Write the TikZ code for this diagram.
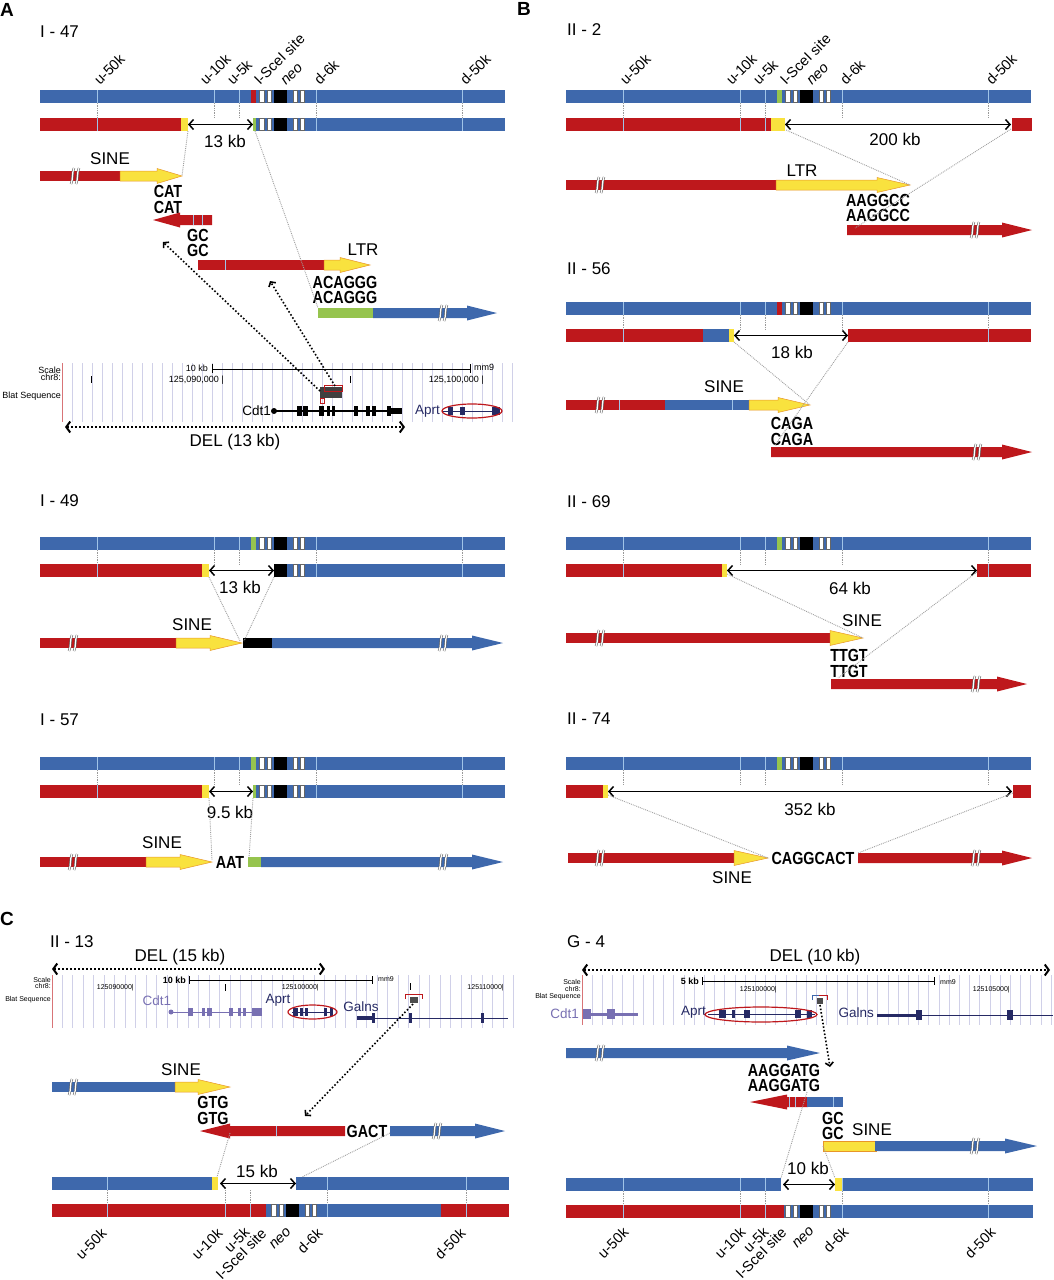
\documentclass[tikz,border=0pt]{standalone}
\usepackage{fontspec}
\setmainfont{Liberation Sans}
\newfontfamily\seqfont[FakeStretch=0.82]{Liberation Sans}
\usetikzlibrary{arrows.meta}

\definecolor{chrblue}{RGB}{62,104,172}
\definecolor{chrred}{RGB}{190,24,28}
\definecolor{sineyellow}{RGB}{249,226,62}
\definecolor{sineedge}{RGB}{232,150,40}
\definecolor{cassgreen}{RGB}{150,196,78}
\definecolor{tickblue}{RGB}{160,196,232}
\definecolor{ucscline}{RGB}{208,208,232}
\definecolor{genepurple}{RGB}{120,112,178}
\definecolor{genenavy}{RGB}{38,42,100}

\tikzset{
  lbl/.style={font=\fontsize{17}{17}\selectfont, inner sep=0pt},
  seqtext/.style={font=\seqfont\bfseries\fontsize{17.5}{17}\selectfont, inner sep=0pt},
  tklabel/.style={rotate=45, font=\fontsize{14.5}{14}\selectfont, inner sep=0pt},
  panel/.style={font=\bfseries\fontsize{19}{19}\selectfont, inner sep=0pt},
  scaletext/.style={font=\fontsize{9}{9}\selectfont, inner sep=0pt},
  smallscale/.style={font=\fontsize{7}{7}\selectfont, inner sep=0pt},
  genetext/.style={font=\fontsize{13.5}{13}\selectfont, inner sep=0pt},
  tickline/.style={tickblue, line width=0.9pt},
  gapline/.style={gray!80, densely dotted, line width=0.7pt},
  junction/.style={gray!75, densely dotted, line width=0.9pt},
  kbspan/.style={{Straight Barb[length=4.5pt,width=10pt]}-{Straight Barb[length=4.5pt,width=10pt]}, line width=1.5pt},
  delspan/.style={dotted, line width=2pt, {Straight Barb[length=4pt,width=11pt]}-{Straight Barb[length=4pt,width=11pt]}},
  blatarrow/.style={dotted, line width=1.6pt, -{Straight Barb[length=3.5pt,width=8pt]}},
  redfill/.style={fill=chrred},
  bluefill/.style={fill=chrblue},
  sinefill/.style={fill=sineyellow, draw=sineedge, line width=0.5pt},
  whitebox/.style={fill=white, draw=black!60, line width=0.5pt},
}

% arrow piece: [style]{x start}{x head}{x tip}{y centre}
\newcommand\chrarrow[5][]{\path[#1] (#2,#5-5) -- (#3,#5-5) -- (#3,#5-7.5) -- (#4,#5) -- (#3,#5+7.5) -- (#3,#5+5) -- (#2,#5+5) -- cycle;}
% break mark on a row
\newcommand\brk[2]{\foreach \dx in {-2.5,2.5}{
  \draw[black!60, line width=2.4pt] (#1+\dx-1.5,#2+8) .. controls (#1+\dx+1,#2+2) and (#1+\dx-1,#2-2) .. (#1+\dx+1.5,#2-8);
  \draw[white, line width=1.2pt] (#1+\dx-1.5,#2+8) .. controls (#1+\dx+1,#2+2) and (#1+\dx-1,#2-2) .. (#1+\dx+1.5,#2-8);}}
\newcommand\neocassette[1]{%
  \path[whitebox] (219.5,#1+0.5) rectangle (224,#1+12.5) (227,#1+0.5) rectangle (231.5,#1+12.5)
               (253,#1+0.5) rectangle (257,#1+12.5) (260,#1+0.5) rectangle (264.5,#1+12.5);
  \fill[black] (234,#1) rectangle (247,#1+13);}
\newcommand\barticks[2][57,174,199,276,422]{\foreach \tk in {#1} \draw[tickline] (\tk,#2) -- (\tk,#2+13);}
\newcommand\gaplines[2][57,174,199,276,422]{\foreach \tk in {#1} \draw[gapline] (\tk,#2+13) -- (\tk,#2+28);}
\newcommand\refbar[2]{%
  \fill[chrblue] (0,#1) rectangle (465,#1+13);
  \fill[#2] (211,#1) rectangle (216,#1+13);
  \neocassette{#1}\barticks{#1}}
\newcommand\toplabels[2]{%
  \node[tklabel, anchor=base west] (#1u50) at (60,#2) {u-50k};
  \node[tklabel, anchor=base west] (#1u10) at (166,#2) {u-10k};
  \node[tklabel, anchor=base west] (#1u5) at (193,#2) {u-5k};
  \node[tklabel, anchor=base west] (#1sce) at (220,#2) {I-SceI site};
  \node[tklabel, anchor=base west] (#1neo) at (246,#2) {\itshape neo};
  \node[tklabel, anchor=base west] (#1d6) at (280,#2) {d-6k};
  \node[tklabel, anchor=base west] (#1d50) at (426,#2) {d-50k};}

\begin{document}
\begin{tikzpicture}[x=1pt,y=-1pt]
  \useasboundingbox (0,0) rectangle (1053,1280);

  % Panel letters
  \node[panel] (pA) at (7,10) {A};
  \node[panel] (pB) at (524,9) {B};
  \node[panel] (pC) at (7,919) {C};

  %% I - 47
  \node[lbl, anchor=west] (t47) at (40,32) {I - 47};
  \begin{scope}[xshift=40pt]
    \refbar{90}{chrred}
    \toplabels{a47}{86}
    \gaplines{90}
    \fill[chrred] (0,118) rectangle (141,131);
    \fill[sineyellow] (141,118) rectangle (148,131);
    \fill[chrblue] (213,118) rectangle (465,131);
    \fill[cassgreen] (213,118) rectangle (216,131);
    \neocassette{118}
    \barticks[57,276,422]{118}
    \coordinate (a47l) at (148,124.5);
    \coordinate (a47r) at (213,124.5);
    \coordinate (a47y) at (148,131);
    \coordinate (a47g) at (215,131);
  \end{scope}
  \draw[kbspan] (a47l) -- (a47r);
  \node[lbl] (a47kb) at (225,141) {13 kb};
  % SINE row
  \fill[chrred] (40,171) rectangle (121,181);
  \chrarrow[sinefill]{120}{157}{182}{176}
  \brk{75}{176}
  \node[lbl] (a47sine) at (110,159) {SINE};
  \coordinate (a47st) at (182,176);
  \draw[junction] (a47y) -- (a47st);
  \node[seqtext] (a47cat1) at (168,191) {CAT};
  \node[seqtext] (a47cat2) at (168,207) {CAT};
  \chrarrow[redfill]{212}{180}{153}{220}
  \draw[tickline] (193,215) -- (193,225) (202,215) -- (202,225);
  \node[seqtext] (a47gc1) at (198,235) {GC};
  \node[seqtext] (a47gc2) at (198,250) {GC};
  % LTR row
  \fill[chrred] (198,260) rectangle (325,270);
  \draw[tickline] (225,260) -- (225,270);
  \chrarrow[sinefill]{324}{340}{370}{265}
  \node[lbl] (a47ltr) at (363,250) {LTR};
  \node[seqtext] (a47ac1) at (345,282) {ACAGGG};
  \node[seqtext] (a47ac2) at (345,297) {ACAGGG};
  \fill[cassgreen] (318,308) rectangle (374,318);
  \chrarrow[bluefill]{373}{467}{497}{313}
  \brk{443}{313}
  \coordinate (a47jn) at (318,308);
  \draw[junction] (a47g) -- (a47jn);
  % browser view
  \foreach \x in {72,82,...,518} \draw[ucscline] (\x,363) -- (\x,422);
  \draw[chrred!60, line width=0.6pt] (62,363) -- (62,422);
  \node[scaletext, anchor=east] (a47scale) at (61,370) {Scale};
  \node[scaletext, anchor=east] (a47chr) at (61,377) {chr8:};
  \node[scaletext, anchor=east] (a47blat) at (61,396) {Blat Sequence};
  \node[scaletext, anchor=east] (a47ten) at (208,368) {10 kb};
  \draw[line width=0.8pt] (212,364) -- (212,373) (212,369) -- (470,369) (470,364) -- (470,373);
  \node[scaletext, anchor=west] (a47mm) at (474,367) {mm9};
  \draw[line width=0.7pt] (91,376) -- (91,383) (350,376) -- (350,383);
  \node[scaletext, anchor=east] (a47pa) at (224,380) {125,090,000 |};
  \node[scaletext, anchor=east] (a47pb) at (484,380) {125,100,000 |};
  \fill[black!75] (320,387) rectangle (342,398);
  \draw[chrred, line width=0.8pt] (324,385) rectangle (342,391) (320,398) rectangle (324,403);
  \node[genetext, anchor=east] (a47cdt) at (271,411) {Cdt1};
  \draw[line width=1.2pt] (272,411) -- (402,411);
  \fill (274,411) circle (3pt);
  \foreach \a/\b in {297/302,303/308,319/324,327/330,332/335,354/358,366/370,372/376,387/391}
    \fill (\a,406) rectangle (\b,416);
  \fill (391,408) rectangle (402,414);
  \node[genetext, text=genenavy, anchor=east] (a47aprt) at (440,411) {Aprt};
  \draw[genenavy, line width=1pt] (442,411) -- (500,411);
  \foreach \a/\b in {448/453,460/465,492/500} \fill[genenavy] (\a,407) rectangle (\b,415);
  \draw[chrred, line width=1.2pt] (472,411) ellipse (30pt and 7pt);
  \coordinate (a47b1) at (320,391);
  \coordinate (a47b2) at (335,386);
  \coordinate (a47pg) at (163,242);
  \coordinate (a47pl) at (270,281);
  \draw[blatarrow] (a47b1) -- (a47pg);
  \draw[blatarrow] (a47b2) -- (a47pl);
  \coordinate (a47d1) at (65,427);
  \coordinate (a47d2) at (405,427);
  \draw[delspan] (a47d1) -- (a47d2);
  \node[lbl] (a47del) at (235,442) {DEL (13 kb)};

  %% I - 49
  \node[lbl, anchor=west] (t49) at (40,501) {I - 49};
  \begin{scope}[xshift=40pt]
    \refbar{537}{cassgreen}
    \gaplines{537}
    \fill[chrred] (0,564) rectangle (162,577);
    \fill[sineyellow] (162,564) rectangle (169,577);
    \fill[chrblue] (234,564) rectangle (465,577);
    \fill[black] (234,564) rectangle (247,577);
    \path[whitebox] (253,564.5) rectangle (257,576.5) (260,564.5) rectangle (264.5,576.5);
    \barticks[57,276,422]{564}
    \coordinate (c49l) at (169,570.5);
    \coordinate (c49r) at (234,570.5);
    \coordinate (c49y) at (169,577);
    \coordinate (c49e) at (234,577);
  \end{scope}
  \draw[kbspan] (c49l) -- (c49r);
  \node[lbl] (c49kb) at (240,587) {13 kb};
  \fill[chrred] (40,638) rectangle (177,648);
  \chrarrow[sinefill]{176}{210}{242}{643}
  \fill[black] (243,638) rectangle (273,648);
  \chrarrow[bluefill]{272}{472}{503}{643}
  \brk{73}{643} \brk{443}{643}
  \node[lbl] (c49sine) at (192,625) {SINE};
  \coordinate (c49st) at (240,641);
  \coordinate (c49bk) at (244,641);
  \draw[junction] (c49y) -- (c49st);
  \draw[junction] (c49e) -- (c49bk);

  %% I - 57
  \node[lbl, anchor=west] (t57) at (40,720) {I - 57};
  \begin{scope}[xshift=40pt]
    \refbar{757}{cassgreen}
    \gaplines{757}
    \fill[chrred] (0,785) rectangle (162,798);
    \fill[sineyellow] (162,785) rectangle (169,798);
    \fill[chrblue] (213,785) rectangle (465,798);
    \fill[cassgreen] (213,785) rectangle (216,798);
    \neocassette{785}
    \barticks[57,276,422]{785}
    \coordinate (c57l) at (169,791.5);
    \coordinate (c57r) at (213,791.5);
    \coordinate (c57y) at (169,798);
    \coordinate (c57e) at (213,798);
  \end{scope}
  \draw[kbspan] (c57l) -- (c57r);
  \node[lbl] (c57kb) at (230,812) {9.5 kb};
  \fill[chrred] (40,857) rectangle (147,867);
  \chrarrow[sinefill]{146}{180}{212}{862}
  \fill[cassgreen] (248,857) rectangle (262,867);
  \chrarrow[bluefill]{261}{472}{503}{862}
  \brk{73}{862} \brk{443}{862}
  \node[lbl] (c57sine) at (162,843) {SINE};
  \node[seqtext] (c57aat) at (230,862) {AAT};
  \coordinate (c57st) at (212,860);
  \coordinate (c57gn) at (249,858);
  \draw[junction] (c57y) -- (c57st);
  \draw[junction] (c57e) -- (c57gn);

  %% II - 2
  \node[lbl, anchor=west] (t2) at (567,30) {II - 2};
  \begin{scope}[xshift=566pt]
    \refbar{90}{cassgreen}
    \toplabels{b2}{86}
    \gaplines{90}
    \fill[chrred] (0,118) rectangle (205,131);
    \fill[sineyellow] (205,118) rectangle (219,131);
    \fill[chrred] (446,118) rectangle (466,131);
    \barticks[57,174,199]{118}
    \coordinate (b2l) at (219,124.5);
    \coordinate (b2r) at (445,124.5);
    \coordinate (b2y) at (220,130);
    \coordinate (b2e) at (445,129);
  \end{scope}
  \draw[kbspan] (b2l) -- (b2r);
  \node[lbl] (b2kb) at (895,139) {200 kb};
  \fill[chrred] (566,180) rectangle (777,190);
  \chrarrow[sinefill]{776}{877}{910}{185}
  \brk{600}{185}
  \node[lbl] (b2ltr) at (802,171) {LTR};
  \node[seqtext] (b2s1) at (878,200) {AAGGCC};
  \node[seqtext] (b2s2) at (878,215) {AAGGCC};
  \chrarrow[redfill]{847}{1002}{1032}{230}
  \brk{975}{230}
  \coordinate (b2lt) at (910,185);
  \coordinate (b2rt) at (855,228);
  \draw[junction] (b2y) -- (b2lt);
  \draw[junction] (b2e) -- (b2rt);

  %% II - 56
  \node[lbl, anchor=west] (t56) at (567,269) {II - 56};
  \begin{scope}[xshift=566pt]
    \refbar{302}{chrred}
    \gaplines{302}
    \fill[chrred] (0,329) rectangle (137,342);
    \fill[chrblue] (137,329) rectangle (163,342);
    \fill[sineyellow] (163,329) rectangle (168,342);
    \fill[chrred] (282,329) rectangle (465,342);
    \barticks[57,422]{329}
    \coordinate (b56l) at (168,335.5);
    \coordinate (b56r) at (282,335.5);
    \coordinate (b56y) at (168,342);
    \coordinate (b56e) at (282,342);
  \end{scope}
  \draw[kbspan] (b56l) -- (b56r);
  \node[lbl] (b56kb) at (792,352) {18 kb};
  \fill[chrred] (566,400) rectangle (665,410);
  \fill[chrblue] (665,400) rectangle (750,410);
  \draw[tickline] (619,400) -- (619,410) (732,400) -- (732,410);
  \chrarrow[sinefill]{749}{778}{810}{405}
  \brk{600}{405}
  \node[lbl] (b56sine) at (724,387) {SINE};
  \node[seqtext] (b56s1) at (792,423) {CAGA};
  \node[seqtext] (b56s2) at (792,439) {CAGA};
  \chrarrow[redfill]{771}{1002}{1032}{452}
  \brk{977}{452}
  \coordinate (b56st) at (810,405);
  \coordinate (b56rt) at (775,445);
  \draw[junction] (b56y) -- (b56st);
  \draw[junction] (b56e) -- (b56rt);

  %% II - 69
  \node[lbl, anchor=west] (t69) at (567,502) {II - 69};
  \begin{scope}[xshift=566pt]
    \refbar{537}{cassgreen}
    \gaplines{537}
    \fill[chrred] (0,564) rectangle (156,577);
    \fill[sineyellow] (156,564) rectangle (161,577);
    \fill[chrred] (411,564) rectangle (465,577);
    \barticks[57,422]{564}
    \coordinate (b69l) at (161,570.5);
    \coordinate (b69r) at (411,570.5);
    \coordinate (b69y) at (161,574);
    \coordinate (b69e) at (411,572);
  \end{scope}
  \draw[kbspan] (b69l) -- (b69r);
  \node[lbl] (b69kb) at (850,588) {64 kb};
  \fill[chrred] (566,633) rectangle (831,643);
  \chrarrow[sinefill]{830}{830}{863}{638}
  \brk{600}{638}
  \node[lbl] (b69sine) at (862,621) {SINE};
  \node[seqtext] (b69s1) at (849,655) {TTGT};
  \node[seqtext] (b69s2) at (849,671) {TTGT};
  \chrarrow[redfill]{831}{997}{1027}{684}
  \brk{976}{684}
  \coordinate (b69st) at (863,638);
  \coordinate (b69rt) at (838,678);
  \draw[junction] (b69y) -- (b69st);
  \draw[junction] (b69e) -- (b69rt);

  %% II - 74
  \node[lbl, anchor=west] (t74) at (567,719) {II - 74};
  \begin{scope}[xshift=566pt]
    \refbar{757}{cassgreen}
    \gaplines{757}
    \fill[chrred] (0,785) rectangle (37,798);
    \fill[sineyellow] (37,785) rectangle (42,798);
    \fill[chrred] (447,785) rectangle (465,798);
    \coordinate (b74l) at (42,791.5);
    \coordinate (b74r) at (446,791.5);
    \coordinate (b74y) at (42,795);
    \coordinate (b74e) at (447,793);
  \end{scope}
  \draw[kbspan] (b74l) -- (b74r);
  \node[lbl] (b74kb) at (810,809) {352 kb};
  \fill[chrred] (568,853) rectangle (735,863);
  \chrarrow[sinefill]{734}{734}{768}{858}
  \brk{600}{858}
  \node[lbl] (b74sine) at (732,878) {SINE};
  \node[seqtext] (b74seq) at (813,858) {CAGGCACT};
  \chrarrow[redfill]{858}{1002}{1032}{858}
  \brk{976}{858}
  \coordinate (b74st) at (768,858);
  \coordinate (b74rt) at (858,853);
  \draw[junction] (b74y) -- (b74st);
  \draw[junction] (b74e) -- (b74rt);

  %% II - 13
  \node[lbl, anchor=west] (t13) at (50,942) {II - 13};
  \coordinate (c13d1) at (52,969);
  \coordinate (c13d2) at (325,969);
  \draw[delspan] (c13d1) -- (c13d2);
  \node[lbl] (c13del) at (180,957) {DEL (15 kb)};
  \foreach \x in {62,72.5,...,515} \draw[ucscline] (\x,975) -- (\x,1028);
  \draw[chrred!60, line width=0.6pt] (52,975) -- (52,1028);
  \node[smallscale, anchor=east] (c13scale) at (51,980) {Scale};
  \node[smallscale, anchor=east] (c13chr) at (51,986) {chr8:};
  \node[smallscale, anchor=east] (c13blat) at (51,1000) {Blat Sequence};
  \node[scaletext, anchor=east] (c13ten) at (186,980) {\bfseries 10 kb};
  \draw[line width=0.8pt] (189,976) -- (189,984) (189,980) -- (372,980) (372,976) -- (372,984);
  \node[smallscale, anchor=west] (c13mm) at (378,979) {mm9};
  \node[smallscale, anchor=east] (c13pa) at (134,988) {125090000|};
  \node[smallscale, anchor=east] (c13pb) at (319,988) {125100000|};
  \node[smallscale, anchor=east] (c13pc) at (504,988) {125110000|};
  \draw[line width=0.6pt] (225,984) -- (225,991) (410,983) -- (410,990);
  \draw[chrred, line width=1pt] (405,999) -- (405,994) -- (422,994) -- (422,999);
  \fill[black!70] (410,997) rectangle (418,1003);
  \node[genetext, text=genepurple] (c13cdt) at (157,1001) {Cdt1};
  \draw[genepurple, line width=1pt] (170,1012) -- (262,1012);
  \fill[genepurple] (171,1012) circle (2.5pt);
  \foreach \a/\b in {188/193,202/205,207/212,229/233,238/241,243/246,252/262}
    \fill[genepurple] (\a,1008) rectangle (\b,1016);
  \node[genetext, text=genenavy] (c13aprt) at (278,1000) {Aprt};
  \draw[genenavy, line width=1pt] (292,1012) -- (333,1012);
  \foreach \a/\b in {293/298,300/303,305/308,324/327,330/333}
    \fill[genenavy] (\a,1008) rectangle (\b,1016);
  \draw[chrred, line width=1.2pt] (312.5,1012) ellipse (24.5pt and 7pt);
  \node[genetext, text=genenavy] (c13gal) at (361,1007) {Galns};
  \draw[genenavy, line width=1pt] (357,1018) -- (508,1018);
  \fill[genenavy] (357,1016) rectangle (373,1020);
  \foreach \a in {373,410,482} \fill[genenavy] (\a-1.5,1013) rectangle (\a+1.5,1023);
  \coordinate (c13bx) at (413,1004);
  \coordinate (c13pt) at (305,1116);
  \draw[blatarrow] (c13bx) -- (c13pt);
  % rows
  \fill[chrblue] (52,1082) rectangle (176,1092);
  \chrarrow[sinefill]{175}{198}{230}{1087}
  \brk{73}{1087}
  \node[lbl] (c13sine) at (181,1070) {SINE};
  \node[seqtext] (c13g1) at (213,1102) {GTG};
  \node[seqtext] (c13g2) at (213,1118) {GTG};
  \chrarrow[redfill]{345}{230}{200}{1131}
  \draw[tickline] (276,1126) -- (276,1136);
  \node[seqtext] (c13gact) at (367,1131) {GACT};
  \chrarrow[bluefill]{390}{475}{505}{1131}
  \brk{437}{1131}
  \node[lbl] (c13kb) at (257,1171) {15 kb};
  \begin{scope}[xshift=52pt]
    \fill[chrblue] (0,1177) rectangle (160,1190);
    \fill[sineyellow] (160,1177) rectangle (166,1190);
    \fill[chrblue] (244,1177) rectangle (457,1190);
    \barticks[55,275,414]{1177}
    \gaplines[55,173,198,275,414]{1177}
    \fill[chrred] (0,1204) rectangle (214,1217);
    \fill[chrblue] (214,1204) rectangle (389,1217);
    \fill[chrred] (389,1204) rectangle (457,1217);
    \neocassette{1204}
    \barticks[55,173,198,275,414]{1204}
    \coordinate (c13l) at (168,1183.5);
    \coordinate (c13r) at (244,1183.5);
    \coordinate (c13y) at (165,1177);
    \coordinate (c13e) at (250,1177);
  \end{scope}
  \draw[kbspan] (c13l) -- (c13r);
  \coordinate (c13gt) at (230,1133);
  \coordinate (c13ga) at (390,1133);
  \draw[junction] (c13gt) -- (c13y);
  \draw[junction] (c13ga) -- (c13e);
  \node[tklabel, anchor=north east] (c13u50) at (100,1227) {u-50k};
  \node[tklabel, anchor=north east] (c13u10) at (216,1227) {u-10k};
  \node[tklabel, anchor=north east] (c13u5) at (243,1226) {u-5k};
  \node[tklabel, anchor=north east] (c13sce) at (260,1227) {I-SceI site};
  \node[tklabel, anchor=north east] (c13neo) at (286,1227) {\itshape neo};
  \node[tklabel, anchor=north east] (c13d6) at (316,1227) {d-6k};
  \node[tklabel, anchor=north east] (c13d50) at (459,1227) {d-50k};

  %% G - 4
  \node[lbl, anchor=west] (tg4) at (567,942) {G - 4};
  \coordinate (g4d1) at (582,970);
  \coordinate (g4d2) at (1050,970);
  \draw[delspan] (g4d1) -- (g4d2);
  \node[lbl] (g4del) at (815,957) {DEL (10 kb)};
  \foreach \x in {592,602.2,...,1053} \draw[ucscline] (\x,975) -- (\x,1025);
  \draw[chrred!60, line width=0.6pt] (582,975) -- (582,1025);
  \node[smallscale, anchor=east] (g4scale) at (581,982) {Scale};
  \node[smallscale, anchor=east] (g4chr) at (581,989) {chr8:};
  \node[smallscale, anchor=east] (g4blat) at (581,997) {Blat Sequence};
  \node[scaletext, anchor=east] (g4five) at (699,981) {\bfseries 5 kb};
  \draw[line width=0.8pt] (702,977) -- (702,985) (702,981) -- (934,981) (934,977) -- (934,985);
  \node[smallscale, anchor=west] (g4mm) at (940,982) {mm9};
  \node[smallscale, anchor=east] (g4pa) at (777,990) {125100000|};
  \node[smallscale, anchor=east] (g4pb) at (1010,990) {125105000|};
  \draw[chrblue, line width=1pt] (812,1000) -- (812,995) -- (819,995);
  \draw[chrred, line width=1pt] (819,995) -- (827,995) -- (827,1000);
  \fill[black!70] (817,998) rectangle (823,1004);
  \node[genetext, text=genepurple, anchor=east] (g4cdt) at (579,1014) {Cdt1};
  \draw[genepurple, line width=3pt] (583,1014) -- (638,1014);
  \foreach \a/\b in {583/591,607/615} \fill[genepurple] (\a,1009) rectangle (\b,1019);
  \node[genetext, text=genenavy, anchor=east] (g4aprt) at (706,1012) {Aprt};
  \draw[genenavy, line width=1pt] (708,1014) -- (815,1014);
  \foreach \a/\b in {719/726,732/735,744/750,795/801,807/812}
    \fill[genenavy] (\a,1010) rectangle (\b,1018);
  \draw[chrred, line width=1.2pt] (761,1014.5) ellipse (56pt and 7.5pt);
  \node[genetext, text=genenavy, anchor=east] (g4gal) at (874,1013) {Galns};
  \draw[genenavy, line width=3pt] (877,1015) -- (918,1015);
  \draw[genenavy, line width=1pt] (918,1015) -- (1053,1015);
  \foreach \a/\b in {916/922,1007/1013} \fill[genenavy] (\a,1010) rectangle (\b,1020);
  \coordinate (g4bx) at (820,1005);
  \coordinate (g4pt) at (830,1067);
  \draw[blatarrow] (g4bx) -- (g4pt);
  % rows
  \chrarrow[bluefill]{566}{787}{820}{1053}
  \brk{600}{1053}
  \node[seqtext] (g4s1) at (784,1070) {AAGGATG};
  \node[seqtext] (g4s2) at (784,1085) {AAGGATG};
  \chrarrow[redfill]{808}{787}{750}{1102}
  \fill[chrblue] (807,1097) rectangle (843,1107);
  \draw[tickline] (789,1097) -- (789,1107) (795,1097) -- (795,1107) (833,1097) -- (833,1107);
  \node[seqtext] (g4gc1) at (833,1118) {GC};
  \node[seqtext] (g4gc2) at (833,1133) {GC};
  \node[lbl] (g4sine) at (872,1130) {SINE};
  \fill[sineyellow, draw=sineedge, line width=0.5pt] (823,1141) rectangle (876,1151);
  \chrarrow[bluefill]{875}{1005}{1037}{1146}
  \brk{975}{1146}
  \node[lbl] (g4kb) at (808,1168) {10 kb};
  \begin{scope}[xshift=566pt]
    \fill[chrblue] (0,1178) rectangle (215,1191);
    \fill[sineyellow] (269,1178) rectangle (276,1191);
    \fill[chrblue] (276,1178) rectangle (467,1191);
    \barticks[57,174,199,276,422]{1178}
    \gaplines{1178}
    \fill[chrred] (0,1205) rectangle (218,1218);
    \fill[chrblue] (218,1205) rectangle (467,1218);
    \neocassette{1205}
    \barticks{1205}
    \coordinate (g4l) at (217,1184.5);
    \coordinate (g4r) at (269,1184.5);
    \coordinate (g4b) at (215,1178);
    \coordinate (g4y) at (269,1178);
  \end{scope}
  \draw[kbspan] (g4l) -- (g4r);
  \coordinate (g4rv) at (807,1092);
  \coordinate (g4sn) at (823,1146);
  \draw[junction] (g4rv) -- (g4b);
  \draw[junction] (g4sn) -- (g4y);
  \node[tklabel, anchor=north east] (g4u50) at (622,1226) {u-50k};
  \node[tklabel, anchor=north east] (g4u10) at (739,1226) {u-10k};
  \node[tklabel, anchor=north east] (g4u5) at (762,1226) {u-5k};
  \node[tklabel, anchor=north east] (g4sce) at (780,1226) {I-SceI site};
  \node[tklabel, anchor=north east] (g4neo) at (809,1226) {\itshape neo};
  \node[tklabel, anchor=north east] (g4d6) at (842,1226) {d-6k};
  \node[tklabel, anchor=north east] (g4d50) at (989,1226) {d-50k};
\end{tikzpicture}
\end{document}
